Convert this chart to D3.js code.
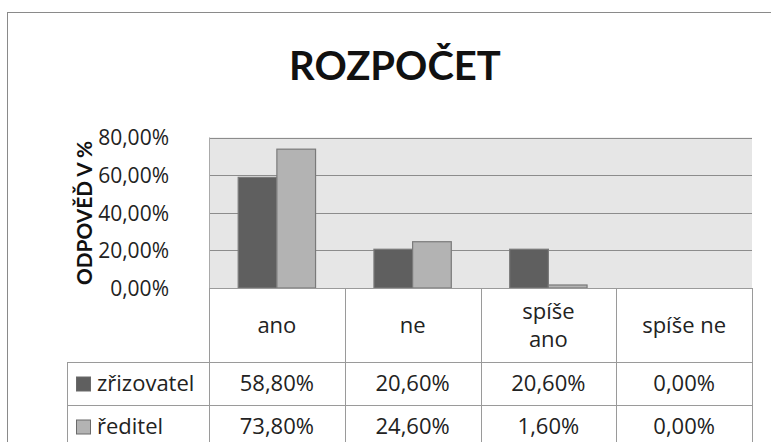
<!DOCTYPE html>
<html>
<head>
<meta charset="utf-8">
<script src="https://cdn.jsdelivr.net/npm/d3@7"></script>
<style>
  body { margin: 0; background: #fff; }
  svg { display: block; font-family: "Open Sans", sans-serif; }
</style>
</head>
<body>
<div id="chart"></div>
<script>
// data
var categories = ["ano", "ne", "spíše ano", "spíše ne"];
var seriesNames = ["zřizovatel", "ředitel"];
var zrizovatel = [0.588, 0.206, 0.206, 0.0];
var reditel = [0.738, 0.246, 0.016, 0.0];
var yTicks = [0, 0.2, 0.4, 0.6, 0.8];
var seriesColors = ["#5f5f5f", "#b3b3b3"];

var width = 771, height = 442;
var plot = {left: 209, right: 752, top: 137.5, bottom: 288};
var tableLeft = 67, headerBottom = 362, rowH = 43;
var fs = 22;

var cz = d3.formatLocale({decimal: ",", thousands: " ", grouping: [3], currency: ["", " Kč"]});
var pct = cz.format(".2%");

var svg = d3.select("#chart")
    .append("svg")
    .attr("width", width)
    .attr("height", height);

// outer frame
svg.append("rect")
    .attr("x", 7.5).attr("y", 12.5)
    .attr("width", 800).attr("height", 500)
    .attr("fill", "#fff")
    .attr("stroke", "#8a8a8a")
    .attr("stroke-width", 1);

svg.append("text")
    .attr("x", 395).attr("y", 80)
    .attr("text-anchor", "middle")
    .attr("font-family", "Lato, sans-serif")
    .attr("font-size", 40)
    .attr("font-weight", "bold")
    .attr("fill", "#111")
    .text("ROZPOČET");

var x = d3.scaleBand()
    .domain(categories)
    .range([plot.left, plot.right]);

var xs = d3.scaleBand()
    .domain(seriesNames)
    .range([0, x.bandwidth()])
    .paddingOuter(0.755);

var y = d3.scaleLinear()
    .domain([0, 0.8])
    .range([plot.bottom, plot.top]);

// plot background
svg.append("rect")
    .attr("x", plot.left).attr("y", plot.top)
    .attr("width", plot.right - plot.left)
    .attr("height", plot.bottom - plot.top)
    .attr("fill", "#e6e6e6");

svg.append("g")
    .selectAll("line")
    .data(yTicks)
    .enter().append("line")
    .attr("x1", plot.left).attr("x2", plot.right)
    .attr("y1", d => Math.round(y(d)) + 0.5)
    .attr("y2", d => Math.round(y(d)) + 0.5)
    .attr("stroke", "#8c8c8c")
    .attr("stroke-width", 1.2);

svg.append("line")
    .attr("x1", plot.left + 0.5).attr("x2", plot.left + 0.5)
    .attr("y1", plot.top).attr("y2", plot.bottom)
    .attr("stroke", "#aaa");

// y axis labels
var yAxis = d3.axisLeft(y).tickValues(yTicks).tickFormat(pct).tickSize(0).tickPadding(0);
var gy = svg.append("g")
    .attr("transform", "translate(169,0)")
    .call(yAxis);
gy.select(".domain").remove();
gy.selectAll("text")
    .attr("font-size", 21)
    .attr("font-family", "'Open Sans', sans-serif")
    .attr("fill", "#222")
    .attr("dy", "0.35em");

svg.append("text")
    .attr("transform", "translate(92,213) rotate(-90)")
    .attr("text-anchor", "middle")
    .attr("font-family", "Lato, sans-serif")
    .attr("font-size", 20.8)
    .attr("font-weight", "bold")
    .attr("fill", "#111")
    .text("ODPOVĚĎ V %");

// bars
var values = [zrizovatel, reditel];
seriesNames.forEach(function(name, si) {
    svg.append("g")
        .selectAll("rect")
        .data(categories)
        .enter().append("rect")
        .attr("x", d => x(d) + xs(name))
        .attr("width", xs.bandwidth())
        .attr("y", (d, i) => y(values[si][i]))
        .attr("height", (d, i) => plot.bottom - y(values[si][i]))
        .attr("fill", seriesColors[si])
        .attr("stroke", "#7a7a7a")
        .attr("stroke-width", 1.2);
});

// data table
var lineColor = "#9a9a9a";
var tbl = svg.append("g");
var vx = [plot.left].concat(categories.map(c => x(c) + x.bandwidth()));
tbl.selectAll(".vl")
    .data(vx)
    .enter().append("line")
    .attr("x1", d => Math.round(d) + 0.5).attr("x2", d => Math.round(d) + 0.5)
    .attr("y1", plot.bottom).attr("y2", height)
    .attr("stroke", lineColor);
tbl.append("line")
    .attr("x1", tableLeft + 0.5).attr("x2", tableLeft + 0.5)
    .attr("y1", headerBottom).attr("y2", height)
    .attr("stroke", lineColor);
tbl.selectAll(".hl")
    .data([headerBottom, headerBottom + rowH])
    .enter().append("line")
    .attr("x1", tableLeft).attr("x2", plot.right)
    .attr("y1", d => d + 0.5).attr("y2", d => d + 0.5)
    .attr("stroke", lineColor);
tbl.append("line")
    .attr("x1", plot.left).attr("x2", plot.right)
    .attr("y1", plot.bottom + 0.5).attr("y2", plot.bottom + 0.5)
    .attr("stroke", lineColor);

// header labels (wrap "spíše ano")
categories.forEach(function(c) {
    var cx = x(c) + x.bandwidth() / 2;
    var lines = c === "spíše ano" ? ["spíše", "ano"] : [c];
    var t = tbl.append("text")
        .attr("x", cx)
        .attr("text-anchor", "middle")
        .attr("font-size", fs)
        .attr("fill", "#222");
    lines.forEach(function(l, li) {
        var cy = (plot.bottom + headerBottom) / 2 + (li - (lines.length - 1) / 2) * 28;
        t.append("tspan").attr("x", cx).attr("y", cy).attr("dy", "0.35em").text(l);
    });
});

// value rows
values.forEach(function(vals, si) {
    var cy = headerBottom + rowH * si + rowH / 2;
    tbl.append("rect")
        .attr("x", 76.5).attr("y", cy - 6.5)
        .attr("width", 14).attr("height", 14)
        .attr("fill", seriesColors[si])
        .attr("stroke", "#6a6a6a");
    tbl.append("text")
        .attr("x", 97).attr("y", cy).attr("dy", "0.35em")
        .attr("font-size", fs)
        .attr("fill", "#222")
        .text(seriesNames[si]);
    tbl.selectAll(null)
        .data(vals)
        .enter().append("text")
        .attr("x", (d, i) => x(categories[i]) + x.bandwidth() / 2)
        .attr("y", cy).attr("dy", "0.35em")
        .attr("text-anchor", "middle")
        .attr("font-size", fs)
        .attr("fill", "#222")
        .text(d => pct(d));
});
</script>
</body>
</html>
